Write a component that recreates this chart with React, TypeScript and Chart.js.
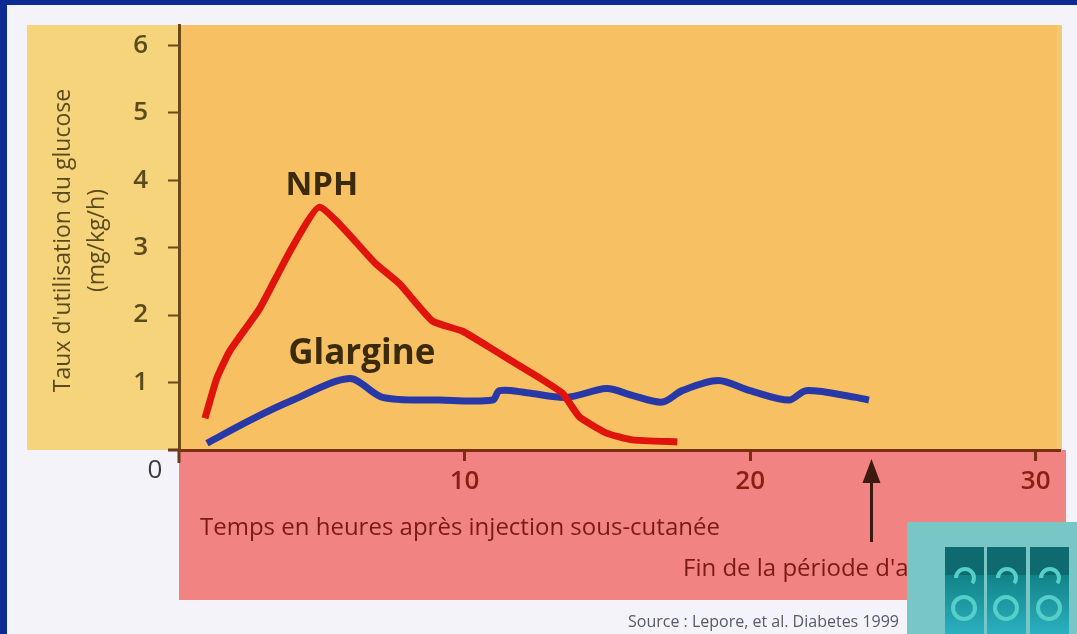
import React, { useEffect, useRef } from 'react';
import { Chart, registerables } from 'chart.js';
Chart.register(...registerables);

// NPH series (hours after injection, glucose utilisation mg/kg/h)
const nphHours = [0.91, 1.33, 1.78, 2.83, 3.88, 4.93, 6.89, 7.73, 8.88, 9.93, 11.22, 12.62, 13.43, 14.02, 14.97, 15.87, 17.45];
const nphRate = [0.47, 1.07, 1.47, 2.1, 2.94, 3.6, 2.76, 2.46, 1.91, 1.76, 1.43, 1.07, 0.84, 0.49, 0.25, 0.15, 0.12];
// Glargine series
const glargineHours = [0.98, 2.48, 3.99, 5.98, 7.13, 9.13, 10.98, 11.22, 12.17, 13.57, 14.97, 15.87, 16.92, 17.62, 18.88, 20.0, 21.36, 21.96, 23.71, 24.16];
const glargineRate = [0.1, 0.44, 0.74, 1.06, 0.78, 0.74, 0.74, 0.88, 0.85, 0.78, 0.91, 0.81, 0.71, 0.88, 1.03, 0.88, 0.74, 0.88, 0.78, 0.74];

const xTickValues = [10, 20, 30];
const yTickValues = [1, 2, 3, 4, 5, 6];
const xMax = 30.85;
const yMax = 6.3;

const seriesLabels = ['NPH', 'Glargine'];
const labelHours = [5.0, 6.4];
const labelRates = [3.78, 1.28];
const arrowHour = 24.25;

const yTitle = ["Taux d'utilisation du glucose", '(mg/kg/h)'];
const xTitle = 'Temps en heures après injection sous-cutanée';
const endNote = "Fin de la période d'action";
const source = 'Source : Lepore, et al. Diabetes 1999';

const FONT = '"Open Sans", "Noto Sans", sans-serif';

const decor = {
  id: 'decor',
  beforeDraw(chart: any) {
    const { ctx, chartArea: a, width, height } = chart;
    ctx.save();
    ctx.fillStyle = '#0b2a94';
    ctx.fillRect(0, 0, width, height);
    ctx.fillStyle = '#f3f3f9';
    ctx.fillRect(7, 5, width - 7, height - 5);
    ctx.fillStyle = '#f5d47c';
    ctx.fillRect(27, a.top, a.left - 27, a.bottom - a.top);
    ctx.fillStyle = '#f7c063';
    ctx.fillRect(a.left, a.top, a.right + 2 - a.left, a.bottom - a.top);
    ctx.fillStyle = '#f0cb72';
    ctx.fillRect(a.right - 3, a.top, 5, a.bottom - a.top);
    ctx.fillStyle = '#f28383';
    ctx.fillRect(a.left, a.bottom, a.right + 6 - a.left, 150);
    ctx.restore();
  },
  afterDraw(chart: any) {
    const { ctx, chartArea: a, scales } = chart;
    const xs = scales.x, ys = scales.y;
    ctx.save();
    // axis extensions
    ctx.strokeStyle = '#6b3a16';
    ctx.lineWidth = 3;
    ctx.beginPath();
    ctx.moveTo(a.left, a.bottom);
    ctx.lineTo(a.left, a.bottom + 13);
    ctx.moveTo(a.left - 11, a.bottom);
    ctx.lineTo(a.left, a.bottom);
    ctx.stroke();
    // origin label
    ctx.fillStyle = '#3a3a3a';
    ctx.font = `26px ${FONT}`;
    ctx.textAlign = 'center';
    ctx.textBaseline = 'middle';
    ctx.fillText('0', xs.getPixelForValue(0) - 24, ys.getPixelForValue(0) + 21);
    // y title
    ctx.fillStyle = '#5a4a1e';
    ctx.font = `23px ${FONT}`;
    const cy = (a.top + a.bottom) / 2 + 3;
    [63, 97].forEach((px, i) => {
      ctx.save();
      ctx.translate(px, cy);
      ctx.rotate(-Math.PI / 2);
      ctx.fillText(yTitle[i], 0, 0);
      ctx.restore();
    });
    // series labels
    ctx.fillStyle = '#3b2a0c';
    ctx.textBaseline = 'alphabetic';
    seriesLabels.forEach((t, i) => {
      ctx.font = `bold ${i === 0 ? 33 : 35}px ${FONT}`;
      ctx.fillText(t, xs.getPixelForValue(labelHours[i]), ys.getPixelForValue(labelRates[i]));
    });
    // x title
    ctx.fillStyle = '#7a1a12';
    ctx.font = `24px ${FONT}`;
    ctx.textAlign = 'left';
    ctx.textBaseline = 'middle';
    ctx.fillText(xTitle, 200, 528);
    ctx.fillText(endNote, 683, 569);
    // arrow
    const ax = xs.getPixelForValue(arrowHour);
    ctx.strokeStyle = '#3d1a10';
    ctx.fillStyle = '#3d1a10';
    ctx.lineWidth = 3;
    ctx.beginPath();
    ctx.moveTo(ax, a.bottom + 25);
    ctx.lineTo(ax, a.bottom + 92);
    ctx.stroke();
    ctx.beginPath();
    ctx.moveTo(ax, a.bottom + 9);
    ctx.lineTo(ax - 9, a.bottom + 33);
    ctx.lineTo(ax + 9, a.bottom + 33);
    ctx.closePath();
    ctx.fill();
    // source
    ctx.fillStyle = '#55596a';
    ctx.font = `16px ${FONT}`;
    ctx.fillText(source, 628, 622);
    // logo
    ctx.fillStyle = '#78c6c6';
    ctx.fillRect(907, 522, 170, 112);
    const cols = [945, 987, 1030];
    cols.forEach((cx) => {
      ctx.fillStyle = '#0e6a6e';
      ctx.fillRect(cx, 547, 39, 87);
      const g = ctx.createLinearGradient(0, 570, 0, 634);
      g.addColorStop(0, '#0f7f82');
      g.addColorStop(1, '#2bb0c0');
      ctx.fillStyle = g;
      ctx.fillRect(cx, 575, 39, 59);
      ctx.strokeStyle = '#55d0c8';
      ctx.lineWidth = 4;
      ctx.beginPath();
      ctx.arc(cx + 19, 608, 11, 0, Math.PI * 2);
      ctx.stroke();
      ctx.beginPath();
      ctx.arc(cx + 20, 578, 9, Math.PI, Math.PI * 2.2);
      ctx.stroke();
    });
    ctx.restore();
  },
};

export default function App() {
  const ref = useRef<HTMLCanvasElement>(null);
  useEffect(() => {
    document.body.style.margin = '0';
    const chart = new Chart(ref.current!, {
      type: 'line',
      data: {
        datasets: [
          {
            label: 'NPH',
            data: nphHours.map((h, i) => ({ x: h, y: nphRate[i] })),
            borderColor: '#e0140c',
            borderWidth: 7,
            pointRadius: 0,
            tension: 0.15,
            borderCapStyle: 'butt',
            borderJoinStyle: 'round',
          },
          {
            label: 'Glargine',
            data: glargineHours.map((h, i) => ({ x: h, y: glargineRate[i] })),
            borderColor: '#2838a6',
            borderWidth: 7,
            pointRadius: 0,
            tension: 0.3,
            borderCapStyle: 'butt',
            borderJoinStyle: 'round',
          },
        ],
      },
      options: {
        responsive: false,
        animation: false,
        events: [],
        layout: { padding: { left: 0, right: 17, top: 25, bottom: 0 } },
        plugins: { legend: { display: false }, tooltip: { enabled: false } },
        scales: {
          x: {
            type: 'linear',
            min: 0,
            max: xMax,
            afterFit: (s: any) => { s.height = 184; s.paddingLeft = 0; s.paddingRight = 0; },
            afterBuildTicks: (s: any) => { s.ticks = xTickValues.map((v) => ({ value: v })); },
            grid: { drawOnChartArea: false, drawTicks: true, tickLength: 11, tickColor: '#7a2e14', tickWidth: 3 },
            border: { display: true, color: '#7a2e14', width: 3 },
            ticks: { color: '#8a1e12', font: { size: 26, family: FONT, weight: '600' }, padding: 5, maxRotation: 0 },
          },
          y: {
            type: 'linear',
            min: 0,
            max: yMax,
            afterFit: (s: any) => { s.width = 179; s.paddingTop = 0; s.paddingBottom = 0; },
            afterBuildTicks: (s: any) => { s.ticks = yTickValues.map((v) => ({ value: v })); },
            grid: { drawOnChartArea: false, drawTicks: true, tickLength: 11, tickColor: '#6b4a18', tickWidth: 2 },
            border: { display: true, color: '#6b4a18', width: 3 },
            ticks: { color: '#5a4a1e', font: { size: 26, family: FONT, weight: '600' }, padding: 20 },
          },
        },
      },
      plugins: [decor],
    });
    return () => chart.destroy();
  }, []);
  return (
    <canvas
      ref={ref}
      width={1077}
      height={634}
      style={{ position: 'fixed', left: 0, top: 0, width: 1077, height: 634 }}
    />
  );
}
